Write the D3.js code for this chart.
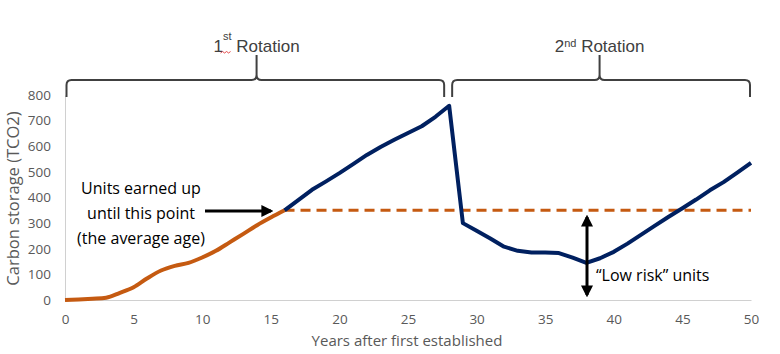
<!DOCTYPE html>
<html>
<head>
<meta charset="utf-8">
<script src="https://cdn.jsdelivr.net/npm/d3@7"></script>
<style>
  body { margin: 0; background: #fff; }
  svg text { font-family: "Open Sans", "Noto Sans", sans-serif; }
  .tick text { fill: #595959; font-size: 13.5px; }
  .axis-title { fill: #595959; font-size: 15px; }
  .rot-title { font-family: "Liberation Sans", Arial, sans-serif !important; fill: #404040; font-size: 17px; }
  .note { fill: #000; font-size: 16px; }
</style>
</head>
<body>
<div id="chart"></div>
<script>
// DATA
const earnedYears  = [0, 1, 2, 3, 4, 5, 6, 7, 8, 9, 10, 11, 12, 13, 14, 15, 16]
const earnedValues = [0, 2, 5, 9, 28, 50, 85, 115, 133, 145, 166, 192, 225, 258, 292, 322, 350]

const standingYears  = [16, 17, 18, 19, 20, 21, 22, 23, 24, 25, 26, 27, 28, 29, 30, 31, 32, 33,
                        34, 35, 36, 37, 38, 39, 40, 41, 42, 43, 44, 45, 46, 47, 48, 49, 50]
const standingValues = [350, 390, 430, 462, 495, 530, 566, 597, 625, 652, 678, 715, 758, 300, 270, 240, 208, 192,
                        185, 185, 183, 165, 145, 163, 188, 220, 255, 290, 325, 358, 392, 428, 460, 497, 535]

const averageYears  = [16, 50]
const averageValues = [350, 350]

const xTicks = [0, 5, 10, 15, 20, 25, 30, 35, 40, 45, 50]
const yTicks = [0, 100, 200, 300, 400, 500, 600, 700, 800]

const rotationNames = ['1', '2']
const rotationSups  = ['st', 'nd']
const rotationStart = [0, 28]
const rotationEnd   = [28, 50]

//MARGIN CONVENTION
const WIDTH = 780, HEIGHT = 354
const PLOT = { LEFT: 65, RIGHT: 751, TOP: 95, BOTTOM: 300 }
const COLORS = { blue: '#002060', orange: '#c55a11', axis: '#d0d0d0', bracket: '#404040' }

const svg = d3.select('#chart').append('svg')
  .attr('width', WIDTH)
  .attr('height', HEIGHT)

//SCALES
const x = d3.scaleLinear().domain([0, 50]).range([PLOT.LEFT, PLOT.RIGHT])
const y = d3.scaleLinear().domain([0, 800]).range([PLOT.BOTTOM, PLOT.TOP])

//AXES
const gX = svg.append('g').attr('transform', `translate(0, ${PLOT.BOTTOM})`)
  .call(d3.axisBottom(x).tickValues(xTicks).tickSize(0).tickPadding(14))
gX.select('.domain').attr('stroke', COLORS.axis)

const gY = svg.append('g').attr('transform', `translate(${PLOT.LEFT}, 0)`)
  .call(d3.axisLeft(y).tickValues(yTicks).tickSize(0).tickPadding(14))
gY.select('.domain').attr('stroke', COLORS.axis)

//LABELS
svg.append('text').attr('class', 'axis-title')
  .attr('x', (PLOT.LEFT + PLOT.RIGHT) / 2 - 1).attr('y', 346)
  .attr('text-anchor', 'middle')
  .text('Years after first established')

svg.append('text').attr('class', 'axis-title')
  .attr('transform', `translate(19, ${(PLOT.TOP + PLOT.BOTTOM) / 2 + 1}) rotate(-90)`)
  .attr('text-anchor', 'middle')
  .style('font-size', '16.5px')
  .text('Carbon storage (TCO2)')

// LINES
const earnedLine = d3.line().curve(d3.curveMonotoneX)
  .x((d, i) => x(earnedYears[i])).y(d => y(d))
const straightLine = (xs) => d3.line()
  .x((d, i) => x(xs[i])).y(d => y(d))

svg.append('path')
  .attr('d', straightLine(averageYears)(averageValues))
  .attr('fill', 'none').attr('stroke', COLORS.orange)
  .attr('stroke-width', 3).attr('stroke-dasharray', '10,6')

svg.append('path')
  .attr('d', earnedLine(earnedValues))
  .attr('fill', 'none').attr('stroke', COLORS.orange)
  .attr('stroke-width', 4).attr('stroke-linejoin', 'round')

svg.append('path')
  .attr('d', straightLine(standingYears)(standingValues))
  .attr('fill', 'none').attr('stroke', COLORS.blue)
  .attr('stroke-width', 4).attr('stroke-linejoin', 'round')

// ROTATION BRACKETS
const BR = { TOP: 80, LEG: 97, PEAK: 55, R: 5 }
rotationNames.forEach((name, i) => {
  const x0 = x(rotationStart[i]) + (i == 0 ? 1.5 : 3)
  const x1 = x(rotationEnd[i]) - (i == 0 ? 5 : 1)
  const xm = x((rotationStart[i] + rotationEnd[i]) / 2) - 0.5
  const p = d3.path()
  p.moveTo(x0, BR.LEG)
  p.lineTo(x0, BR.TOP + BR.R)
  p.quadraticCurveTo(x0, BR.TOP, x0 + BR.R, BR.TOP)
  p.lineTo(xm - BR.R, BR.TOP)
  p.quadraticCurveTo(xm, BR.TOP, xm, BR.TOP - BR.R)
  p.lineTo(xm, BR.PEAK)
  p.moveTo(xm, BR.TOP - BR.R)
  p.quadraticCurveTo(xm, BR.TOP, xm + BR.R, BR.TOP)
  p.lineTo(x1 - BR.R, BR.TOP)
  p.quadraticCurveTo(x1, BR.TOP, x1, BR.TOP + BR.R)
  p.lineTo(x1, BR.LEG)
  svg.append('path').attr('d', p.toString())
    .attr('fill', 'none').attr('stroke', COLORS.bracket).attr('stroke-width', 2)

  const t = svg.append('text').attr('class', 'rot-title')
    .attr('x', xm).attr('y', 52).attr('text-anchor', 'middle')
  t.append('tspan').text(name)
  t.append('tspan').text(rotationSups[i])
    .attr('font-size', '11px')
    .attr('dy', i == 0 ? -12 : -5)
  t.append('tspan').text(' Rotation').attr('dy', i == 0 ? 12 : 5)

  if (i == 0) {
    // the little spell-check squiggle under "st"
    svg.append('path')
      .attr('d', `M${xm - 36},53 l2,-1.5 l2,1.5 l2,-1.5 l2,1.5 l2,-1.5`)
      .attr('fill', 'none').attr('stroke', '#e02020').attr('stroke-width', 0.8)
  }
})

// ANNOTATIONS
const defs = svg.append('defs')
defs.append('marker').attr('id', 'head')
  .attr('viewBox', '0 0 10 10').attr('refX', 8).attr('refY', 5)
  .attr('markerWidth', 4).attr('markerHeight', 4)
  .attr('orient', 'auto-start-reverse')
  .append('path').attr('d', 'M0,0 L10,5 L0,10 z').attr('fill', '#000')

const noteLines = ['Units earned up', 'until this point', '(the average age)']
svg.append('g').selectAll('text').data(noteLines).join('text')
  .attr('class', 'note')
  .attr('x', 141).attr('y', (d, i) => 194 + i * 25)
  .attr('text-anchor', 'middle')
  .text(d => d)

svg.append('line')
  .attr('x1', 205).attr('y1', 211).attr('x2', 271).attr('y2', 211)
  .attr('stroke', '#000').attr('stroke-width', 3)
  .attr('marker-end', 'url(#head)')

svg.append('line')
  .attr('x1', 587).attr('y1', 217).attr('x2', 587).attr('y2', 295)
  .attr('stroke', '#000').attr('stroke-width', 3)
  .attr('marker-start', 'url(#head)').attr('marker-end', 'url(#head)')

svg.append('text').attr('class', 'note')
  .attr('x', 596).attr('y', 281)
  .text('\u201CLow risk\u201D units')
</script>
</body>
</html>
